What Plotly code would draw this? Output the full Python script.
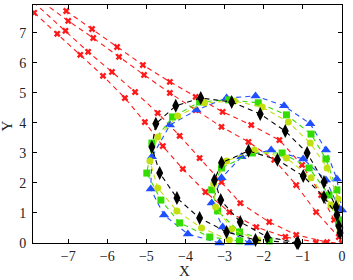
import plotly.graph_objects as go

# ---- red (x) trajectories ----
red_a_x = [-7.05, -6.39, -5.75, -5.09, -4.40, -3.74, -3.05, -2.32, -1.60, -1.02, -0.53, -0.20, 0.0]
red_a_y = [7.73, 7.13, 6.53, 5.93, 5.37, 4.87, 4.37, 3.93, 3.43, 2.60, 1.60, 0.77, 0.0]
red_b_x = [-7.66, -7.00, -6.36, -5.70, -5.06, -4.40, -3.74, -3.08, -2.39, -1.73, -1.17, -0.66, -0.08]
red_b_y = [8.03, 7.40, 6.83, 6.20, 5.60, 5.00, 4.43, 3.87, 3.37, 2.77, 1.93, 1.03, 0.20]
red_c_x = [-7.87, -7.28, -6.69, -6.11, -5.55, -5.04, -4.58, -4.07, -3.49, -2.88, -2.19, -1.45, -0.66, 0.0]
red_c_y = [7.67, 6.97, 6.27, 5.57, 4.83, 4.03, 3.23, 2.47, 1.70, 1.03, 0.53, 0.20, 0.03, 0.0]
red_d_x = [-7.89, -7.07, -6.49, -5.88, -5.29, -4.71, -4.15, -3.64, -3.08, -2.60, -1.86, -1.17, -0.38]
red_d_y = [8.03, 7.07, 6.37, 5.70, 5.03, 4.33, 3.57, 2.83, 2.03, 1.33, 0.70, 0.27, 0.03]

# ---- black (diamond) ----
blk_out_x = [-1.15, -2.21, -2.95, -3.64, -4.22, -4.66, -4.86, -4.76, -4.25, -3.61, -2.82, -2.09, -1.45, -0.89, -0.46, -0.15, -0.08]
blk_out_y = [0.0, 0.10, 0.37, 0.83, 1.50, 2.33, 3.20, 3.97, 4.57, 4.83, 4.70, 4.30, 3.73, 3.00, 2.03, 1.20, 0.57]
blk_in_x = [-1.12, -1.91, -2.60, -3.10, -3.26, -3.08, -2.39, -1.65, -0.99, -0.46, -0.13, -0.05]
blk_in_y = [0.0, 0.20, 0.70, 1.43, 2.10, 2.67, 3.07, 2.77, 2.23, 1.53, 0.93, 0.33]

# ---- green (square) ----
grn_out_x = [-2.62, -3.38, -4.15, -4.63, -4.99, -4.86, -4.33, -3.64, -2.90, -2.14, -1.42, -0.79, -0.41, -0.13, -0.08]
grn_out_y = [0.07, 0.20, 0.67, 1.43, 2.33, 3.33, 4.20, 4.70, 4.77, 4.67, 4.27, 3.63, 2.80, 1.77, 0.77]
grn_in_x = [-1.86, -2.62, -3.18, -3.33, -3.08, -2.29, -1.53, -0.84, -0.33, -0.08]
grn_in_y = [0.07, 0.37, 1.07, 1.77, 2.50, 3.00, 3.00, 2.50, 1.60, 0.70]

# ---- yellow-green (circle) ----
ylw_out_x = [-2.88, -3.59, -4.22, -4.71, -4.91, -4.71, -4.20, -3.51, -2.75, -2.04, -1.37, -0.81, -0.38, -0.10, -0.05]
ylw_out_y = [0.10, 0.50, 1.07, 1.83, 2.73, 3.53, 4.23, 4.67, 4.73, 4.53, 4.03, 3.33, 2.50, 1.47, 0.50]
ylw_in_x = [-2.16, -2.82, -3.23, -3.28, -2.95, -2.24, -1.42, -0.79, -0.28, -0.05]
ylw_in_y = [0.10, 0.47, 1.20, 1.97, 2.73, 3.10, 2.83, 2.17, 1.27, 0.37]

# ---- blue (triangle) ----
blu_out_x = [-3.13, -3.94, -4.55, -4.89, -4.86, -4.40, -3.72, -2.95, -2.21, -1.48, -0.81, -0.41, -0.13, 0.0]
blu_out_y = [0.0, 0.30, 0.93, 1.80, 2.87, 3.93, 4.43, 4.83, 4.90, 4.57, 3.97, 3.10, 2.13, 1.10]
blu_in_x = [-2.37, -3.05, -3.33, -3.08, -2.57, -1.81, -0.99, -0.41, -0.08]
blu_in_y = [0.0, 0.53, 1.33, 2.17, 2.87, 3.10, 2.80, 2.10, 1.17]

x_ticks = [-7, -6, -5, -4, -3, -2, -1, 0]
y_ticks = [0, 1, 2, 3, 4, 5, 6, 7]
x_title = "X"
y_title = "Y"

DASH = "5px,4px"
fig = go.Figure()


def add(xs, ys, color, symbol, size, clip=True):
    fig.add_trace(go.Scatter(
        x=xs, y=ys, mode="lines+markers",
        line=dict(color=color, width=1.1, dash=DASH),
        marker=dict(symbol=symbol, size=size, color=color, line=dict(width=0)),
        cliponaxis=clip, showlegend=False, hoverinfo="skip"))


RED = "#ff1a1a"
for xs, ys in [(red_a_x, red_a_y), (red_b_x, red_b_y), (red_c_x, red_c_y), (red_d_x, red_d_y)]:
    add(xs, ys, RED, "x", 6)

BLUE = "#1f4fff"
GREEN = "#33dd00"
YELLOW = "#c2e010"
BLACK = "#000000"
for xs, ys in [(blu_out_x, blu_out_y), (blu_in_x, blu_in_y)]:
    add(xs, ys, BLUE, "triangle-up", 9, False)
for xs, ys in [(grn_out_x, grn_out_y), (grn_in_x, grn_in_y)]:
    add(xs, ys, GREEN, "square", 7, False)
for xs, ys in [(ylw_out_x, ylw_out_y), (ylw_in_x, ylw_in_y)]:
    add(xs, ys, YELLOW, "circle", 7, False)
for xs, ys in [(blk_out_x, blk_out_y), (blk_in_x, blk_in_y)]:
    add(xs, ys, BLACK, "diamond-tall", 10, False)

FONT = "Liberation Serif"
axis_common = dict(
    showline=True, linecolor="black", linewidth=1, mirror="ticks",
    ticks="inside", ticklen=4, tickcolor="black", showgrid=False, zeroline=False,
    tickfont=dict(family=FONT, size=14, color="#222"), automargin=False,
)
fig.update_xaxes(range=[-7.9, 0.001], tickvals=x_ticks, ticklabelstandoff=0, **axis_common)
fig.update_yaxes(range=[0, 7.93], tickvals=y_ticks, ticklabelstandoff=3, **axis_common)
fig.update_layout(
    width=353, height=280,
    margin=dict(l=33, r=11, t=5, b=37),
    plot_bgcolor="white", paper_bgcolor="white",
    annotations=[
        dict(text=x_title, xref="paper", yref="paper", x=0.49, y=0, yshift=-28,
             xanchor="center", yanchor="middle", showarrow=False,
             font=dict(family=FONT, size=15, color="#222")),
        dict(text=y_title, xref="paper", yref="paper", x=0, y=0.49, xshift=-26,
             xanchor="center", yanchor="middle", showarrow=False, textangle=-90,
             font=dict(family=FONT, size=15, color="#222")),
    ],
)
fig.write_html("out.html", config={"displayModeBar": False},
               post_script="document.body.style.margin='0';document.body.style.overflow='hidden';")
